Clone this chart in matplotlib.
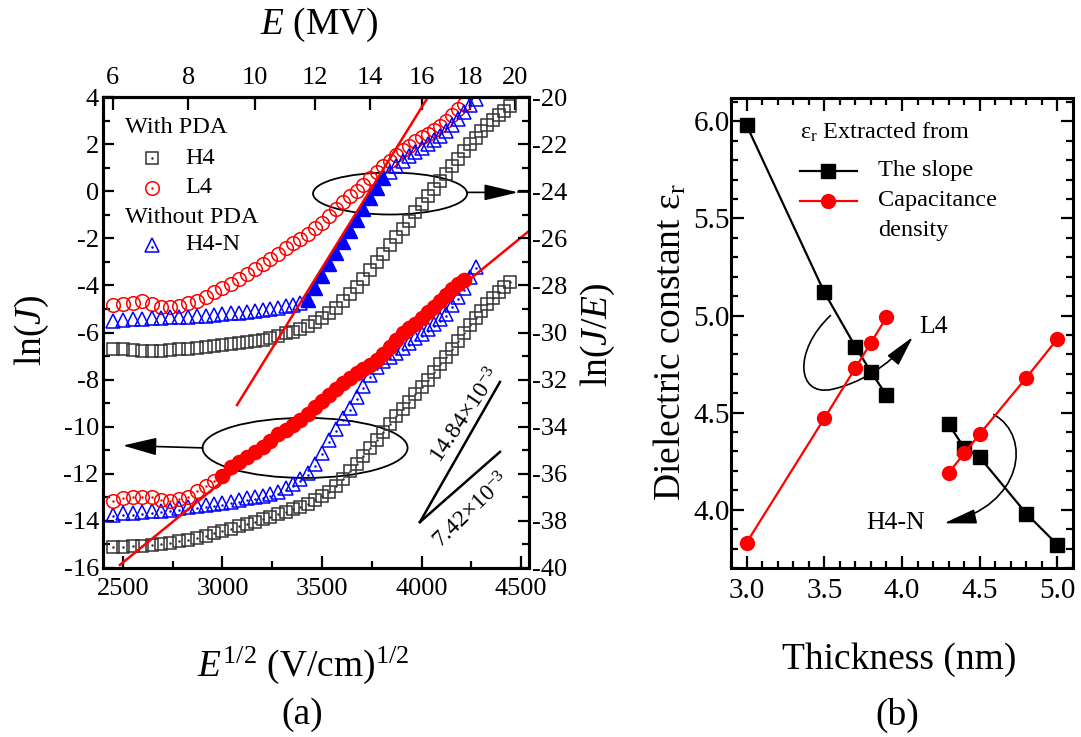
import numpy as np
import matplotlib.pyplot as plt
from matplotlib.patches import Ellipse, FancyArrowPatch
from matplotlib.path import Path
from matplotlib.ticker import MultipleLocator, NullLocator

plt.rcParams['font.family'] = ['Liberation Serif', 'DejaVu Serif']
plt.rcParams['mathtext.fontset'] = 'custom'
plt.rcParams['mathtext.rm'] = 'Liberation Serif'
plt.rcParams['mathtext.it'] = 'Liberation Serif:italic'
plt.rcParams['mathtext.bf'] = 'Liberation Serif:bold'
plt.rcParams['axes.unicode_minus'] = False

# --- data, panel (a) ---
# E^1/2 (V/cm)^1/2 sample points (shared by all samples)
sqrt_e = [2449, 2500, 2550, 2598, 2646, 2693, 2739, 2784, 2828, 2872,
          2915, 2958, 3000, 3041, 3082, 3122, 3162, 3202, 3240, 3279,
          3317, 3354, 3391, 3428, 3464, 3500, 3536, 3571, 3606, 3640,
          3674, 3708, 3742, 3775, 3808, 3841, 3873, 3905, 3937, 3969,
          4000, 4031, 4062, 4093, 4123, 4153, 4183, 4213, 4243, 4272,
          4301, 4330, 4359, 4387, 4416, 4444]

# ln(J/E), right axis
lnje_h4 = [-30.68, -30.70, -30.74, -30.78, -30.80, -30.79, -30.76, -30.72, -30.69, -30.66,
           -30.63, -30.59, -30.55, -30.50, -30.45, -30.40, -30.35, -30.30, -30.22, -30.13,
           -30.04, -29.96, -29.85, -29.72, -29.56, -29.38, -29.17, -28.94, -28.68, -28.38,
           -28.06, -27.71, -27.35, -27.00, -26.65, -26.30, -25.95, -25.60, -25.25, -24.90,
           -24.56, -24.22, -23.90, -23.58, -23.26, -22.94, -22.62, -22.31, -22.01, -21.73,
           -21.46, -21.21, -20.98, -20.77, -20.58, -20.40]
lnje_l4 = [-28.82, -28.79, -28.75, -28.68, -28.78, -28.90, -28.92, -28.87, -28.76, -28.65,
           -28.48, -28.30, -28.13, -27.93, -27.73, -27.52, -27.31, -27.08, -26.87, -26.66,
           -26.42, -26.19, -26.02, -25.80, -25.57, -25.33, -25.06, -24.75, -24.45, -24.22,
           -23.99, -23.72, -23.45, -23.20, -22.95, -22.70, -22.45, -22.25, -22.07, -21.88,
           -21.71, -21.55, -21.40, -21.23, -21.02, -20.78, -20.52, -20.28]
lnje_h4n = [-29.50, -29.47, -29.44, -29.42, -29.40, -29.38, -29.36, -29.34, -29.33, -29.31,
            -29.28, -29.25, -29.22, -29.19, -29.16, -29.13, -29.10, -29.06, -29.01, -28.95,
            -28.89, -28.82, -28.74, -28.60, -28.10, -27.60, -27.10, -26.62, -26.15, -25.68,
            -25.22, -24.76, -24.30, -23.85, -23.45, -23.18, -22.93, -22.70, -22.50, -22.32,
            -22.16, -22.00, -21.84, -21.66, -21.45, -21.20, -20.92, -20.64, -20.36, -20.08]

# ln(J), left axis
lnj_h4 = [-15.10, -15.09, -15.07, -15.05, -15.02, -14.98, -14.93, -14.87, -14.80, -14.72,
          -14.63, -14.53, -14.43, -14.33, -14.22, -14.13, -14.03, -13.93, -13.83, -13.72,
          -13.61, -13.50, -13.40, -13.27, -13.12, -12.95, -12.77, -12.53, -12.22, -11.90,
          -11.57, -11.24, -10.90, -10.56, -10.22, -9.89, -9.56, -9.25, -8.94, -8.63,
          -8.32, -8.01, -7.69, -7.35, -7.02, -6.68, -6.34, -6.00, -5.68, -5.37,
          -5.08, -4.80, -4.54, -4.29, -4.06, -3.84]
lnj_l4 = [-13.14, -13.03, -12.99, -12.99, -12.99, -13.12, -13.16, -13.08, -12.97, -12.75,
          -12.52, -12.32, -12.10, -11.70, -11.49, -11.30, -11.08, -10.87, -10.62, -10.33,
          -10.12, -9.93, -9.70, -9.45, -9.18, -8.92, -8.67, -8.40, -8.14, -7.93,
          -7.73, -7.53, -7.36, -7.17, -6.90, -6.62, -6.30, -6.00, -5.82, -5.64,
          -5.40, -5.15, -4.90, -4.65, -4.40, -4.15, -3.92, -3.75]
lnj_h4n = [-13.73, -13.68, -13.66, -13.63, -13.60, -13.56, -13.52, -13.47, -13.42, -13.37,
           -13.32, -13.28, -13.24, -13.18, -13.10, -13.04, -12.99, -12.93, -12.86, -12.76,
           -12.62, -12.44, -12.23, -11.98, -11.60, -11.10, -10.58, -10.10, -9.63, -9.21,
           -8.73, -8.26, -7.80, -7.45, -7.22, -7.02, -6.85, -6.66, -6.46, -6.25,
           -6.05, -5.86, -5.66, -5.42, -5.20, -4.85, -4.50, -4.10, -3.65, -3.20]

# fitted ranges (index into sqrt_e)
fit_l4_start = 12
fit_h4n_range = (23, 35)

# fit lines
fit_pf_x = [3073, 4033]      # ln(J/E) fit, right axis
fit_pf_y = [-33.08, -20.0]
fit_sk_x = [2485, 4540]      # ln(J) fit, left axis
fit_sk_y = [-15.87, -1.69]

# slope guide lines
guide_x = [3992, 4394]
guide_y1 = [-14.05, -8.10]
guide_y2 = [-14.05, -11.07]

e_ticks = [6, 8, 10, 12, 14, 16, 18, 20]

# --- data, panel (b) ---
thick_a = [3.0, 3.5, 3.7, 3.8, 3.9]
slope_a = [5.98, 5.12, 4.84, 4.71, 4.59]
cap_a = [3.83, 4.47, 4.73, 4.86, 4.99]
thick_b = [4.3, 4.4, 4.5, 4.8, 5.0]
slope_b = [4.44, 4.32, 4.27, 3.98, 3.82]
cap_b = [4.19, 4.29, 4.39, 4.68, 4.88]

W, H = 1081, 737
fig = plt.figure(figsize=(W / 100, H / 100), dpi=100)


def box(x0, y0, x1, y1):
    return [x0 / W, 1 - y1 / H, (x1 - x0) / W, (y1 - y0) / H]


# ================= panel (a) =================
ax = fig.add_axes(box(103, 97, 529, 568))
axr = ax.twinx()

x = np.array(sqrt_e, dtype=float)
n_h4, n_l4, n_h4n = len(lnj_h4), len(lnj_l4), len(lnj_h4n)

sq = dict(marker='s', ms=9.0, mfc='none', mec='#333333', mew=1.1, ls='none')
ci = dict(marker='o', ms=9.8, mfc='none', mec='red', mew=1.1, ls='none')
tr = dict(marker='^', ms=10.5, mfc='none', mec='blue', mew=1.1, ls='none')
dot = dict(marker='.', ms=1.6, ls='none')

# lower set: ln(J)
ax.plot(x[:n_h4], lnj_h4, **sq)
ax.plot(x[:n_h4], lnj_h4, color='#333333', **dot)
ax.plot(x[:n_h4n], lnj_h4n, **tr)
ax.plot(x[:n_h4n], np.array(lnj_h4n) - 0.08, color='blue', **dot)
ax.plot(x[:fit_l4_start], lnj_l4[:fit_l4_start], **ci)
ax.plot(x[:fit_l4_start], lnj_l4[:fit_l4_start], color='red', **dot)
ax.plot(fit_sk_x, fit_sk_y, color='red', lw=1.8)
ax.plot(x[fit_l4_start:n_l4], lnj_l4[fit_l4_start:], marker='o', ms=10.2,
        mfc='red', mec='red', ls='none')

# upper set: ln(J/E)
axr.plot(x[:n_h4], lnje_h4, **sq)
axr.plot(x[:n_l4], lnje_l4, **ci)
axr.plot(x[:n_h4n], lnje_h4n, **tr)
a, b = fit_h4n_range
axr.plot(x[a:b], lnje_h4n[a:b], marker='^', ms=10.5, mfc='blue', mec='blue', ls='none')
axr.plot(fit_pf_x, fit_pf_y, color='red', lw=1.8)

ax.set_xlim(2400, 4540)
ax.set_ylim(-16, 4)
axr.set_ylim(-40, -20)
ax.set_xticks([2500, 3000, 3500, 4000, 4500])
ax.xaxis.set_minor_locator(MultipleLocator(250))
ax.set_yticks(range(-16, 5, 2))
ax.yaxis.set_minor_locator(MultipleLocator(1))
axr.set_yticks(range(-40, -19, 2))
axr.yaxis.set_minor_locator(MultipleLocator(1))

for a_ in (ax, axr):
    for s in a_.spines.values():
        s.set_linewidth(2.2)
ax.tick_params(axis='x', which='major', direction='in', length=9, width=1.6, labelsize=19, pad=7)
ax.tick_params(axis='x', which='minor', direction='in', length=5, width=1.6)
ax.tick_params(axis='y', which='major', direction='in', length=8, width=1.6, labelsize=19, pad=3)
ax.tick_params(axis='y', which='minor', direction='in', length=5, width=1.6)
axr.tick_params(axis='y', which='major', direction='in', length=8, width=1.6, labelsize=19, pad=2)
axr.tick_params(axis='y', which='minor', direction='in', length=5, width=1.6)

top = ax.secondary_xaxis('top', functions=(lambda v: (np.asarray(v) / 1000.0) ** 2,
                                           lambda e: 1000.0 * np.sqrt(np.clip(e, 0, None))))
top.set_xticks(e_ticks)
top.xaxis.set_minor_locator(NullLocator())
top.tick_params(direction='in', length=9, width=1.6, labelsize=19, pad=6)
top.spines['top'].set_linewidth(2.2)

# ellipses and arrows
axr.add_patch(Ellipse((3842, -24.1), 774, 1.78, fill=False, lw=1.3, color='black'))
axr.annotate('', xy=(4485, -24.05), xytext=(4229, -24.05),
             arrowprops=dict(arrowstyle='-|>,head_length=2.1,head_width=0.5',
                             mutation_scale=10, lw=1.2, color='black', shrinkA=0, shrinkB=0))
axr.plot([4485, 4540], [-24.05, -24.05], color='black', lw=1.2)

ax.add_patch(Ellipse((3415, -10.9), 1030, 2.55, fill=False, lw=1.3, color='black'))
ax.annotate('', xy=(2500, -10.8), xytext=(2902, -10.9),
            arrowprops=dict(arrowstyle='-|>,head_length=2.1,head_width=0.55',
                            mutation_scale=10, lw=1.2, color='black', shrinkA=0, shrinkB=0))

# slope guides
ax.plot(guide_x, guide_y1, color='black', lw=1.8)
ax.plot(guide_x, guide_y2, color='black', lw=1.8)
ax.text(4225, -9.55, r'14.84$\times$10$^{-3}$', rotation=56, fontsize=17,
        ha='center', va='center', rotation_mode='anchor')
ax.text(4250, -13.55, r'7.42$\times$10$^{-3}$', rotation=44, fontsize=17,
        ha='center', va='center', rotation_mode='anchor')

# legend drawn by hand (group headings)
tA = ax.transAxes
ax.text(0.052, 0.936, 'With PDA', transform=tA, fontsize=17.5, va='center')
for yy, st, col in ((0.870, sq, '#333333'), (0.807, ci, 'red'), (0.686, tr, 'blue')):
    ax.plot([0.115], [yy], transform=tA, **st)
    ax.plot([0.115], [yy - (0.004 if st is tr else 0)], transform=tA, color=col, **dot)
ax.text(0.192, 0.870, 'H4', transform=tA, fontsize=17.5, va='center')
ax.text(0.192, 0.807, 'L4', transform=tA, fontsize=17.5, va='center')
ax.text(0.052, 0.745, 'Without PDA', transform=tA, fontsize=17.5, va='center')
ax.text(0.192, 0.686, 'H4-N', transform=tA, fontsize=17.5, va='center')

# ================= panel (b) =================
ax2 = fig.add_axes(box(731, 98, 1073, 568))
ax2.plot(thick_a, slope_a, color='black', marker='s', ms=9.6, lw=1.6)
ax2.plot(thick_b, slope_b, color='black', marker='s', ms=9.6, lw=1.6)
ax2.plot(thick_a, cap_a, color='red', marker='o', ms=10, lw=1.6)
ax2.plot(thick_b, cap_b, color='red', marker='o', ms=10, lw=1.6)

ax2.set_xlim(2.9, 5.1)
ax2.set_ylim(3.7, 6.12)
ax2.set_xticks([3.0, 3.5, 4.0, 4.5, 5.0])
ax2.set_yticks([4.0, 4.5, 5.0, 5.5, 6.0])
ax2.xaxis.set_minor_locator(MultipleLocator(0.1))
ax2.yaxis.set_minor_locator(MultipleLocator(0.1))
for s in ax2.spines.values():
    s.set_linewidth(2.2)
ax2.tick_params(which='major', direction='in', length=9, width=1.6, labelsize=21,
                top=True, right=True)
ax2.tick_params(axis='x', which='major', pad=7)
ax2.tick_params(axis='y', which='major', pad=1)
ax2.tick_params(which='minor', direction='in', length=5, width=1.6, top=True, right=True)

# curved arrows
l4_path = Path([(3.54, 5.00), (3.30, 4.82), (3.32, 4.58), (3.55, 4.62),
                (3.72, 4.65), (3.90, 4.73), (4.07, 4.89)],
               [Path.MOVETO, Path.CURVE4, Path.CURVE4, Path.CURVE4,
                Path.CURVE4, Path.CURVE4, Path.CURVE4])
ax2.add_patch(FancyArrowPatch(path=l4_path, arrowstyle='-|>,head_length=1.9,head_width=0.45',
                              mutation_scale=10, lw=1.2, color='black'))
h4n_path = Path([(4.59, 4.49), (4.84, 4.38), (4.78, 4.02), (4.27, 3.93)],
                [Path.MOVETO, Path.CURVE4, Path.CURVE4, Path.CURVE4])
ax2.add_patch(FancyArrowPatch(path=h4n_path, arrowstyle='-|>,head_length=2.0,head_width=0.45',
                              mutation_scale=10, lw=1.2, color='black'))
ax2.text(4.11, 4.94, 'L4', fontsize=18.5, va='center')
ax2.text(3.96, 3.93, 'H4-N', fontsize=18.5, va='center', ha='center')

# legend drawn by hand
tB = ax2.transAxes
ax2.text(0.202, 0.926, r'ε$_{\rm r}$ Extracted from', transform=tB, fontsize=17.5, va='center')
ax2.plot([0.202, 0.368], [0.845, 0.845], transform=tB, color='black', lw=1.6)
ax2.plot([0.285], [0.845], transform=tB, color='black', marker='s', ms=9.6)
ax2.text(0.430, 0.845, 'The slope', transform=tB, fontsize=17.5, va='center')
ax2.plot([0.202, 0.368], [0.781, 0.781], transform=tB, color='red', lw=1.6)
ax2.plot([0.285], [0.781], transform=tB, color='red', marker='o', ms=10)
ax2.text(0.430, 0.781, 'Capacitance', transform=tB, fontsize=17.5, va='center')
ax2.text(0.430, 0.719, 'density', transform=tB, fontsize=17.5, va='center')

# ================= labels =================
fig.text(32 / W, 1 - 330 / H, 'ln($J$)', rotation=90, ha='center', va='center', fontsize=27)
fig.text(598 / W, 1 - 335 / H, 'ln($J$/$E$)', rotation=90, ha='center', va='center', fontsize=27)
fig.text(319 / W, 1 - 25 / H, '$E$ (MV)', ha='center', va='center', fontsize=27)
fig.text(303 / W, 1 - 665 / H, '$E^{1/2}$ (V/cm)$^{1/2}$', ha='center', va='center', fontsize=27)
fig.text(302 / W, 1 - 715 / H, '(a)', ha='center', va='center', fontsize=27)
fig.text(670 / W, 1 - 342 / H, r'Dielectric constant ε$_{\rm r}$', rotation=90,
         ha='center', va='center', fontsize=27)
fig.text(899 / W, 1 - 660 / H, 'Thickness (nm)', ha='center', va='center', fontsize=27)
fig.text(897 / W, 1 - 715 / H, '(b)', ha='center', va='center', fontsize=27)

fig.savefig('out.png', dpi=100)
